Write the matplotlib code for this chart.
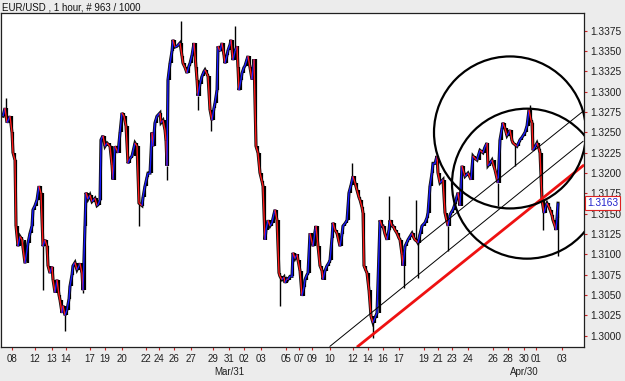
import numpy as np
import matplotlib
matplotlib.use("Agg")
import matplotlib.pyplot as plt
from matplotlib.collections import LineCollection
from matplotlib.patches import Ellipse
import matplotlib.transforms as mtransforms

# ---- price data (bar slot, close) ----
bar_x = [3, 5, 7, 10, 12, 13, 15, 16, 18, 20, 22, 25, 28, 30, 32, 33, 35, 37, 39, 41,
         43, 45, 47, 48, 50, 52, 53, 55, 57, 59, 60, 62, 63, 65, 67, 69, 70, 72, 73, 75,
         77, 79, 80, 82, 83, 85, 86, 88, 90, 92, 95, 97, 98, 100, 101, 103, 105, 107, 110, 112,
         113, 115, 117, 118, 120, 122, 124, 126, 128, 130, 132, 135, 137, 139, 142, 143, 145, 147, 148, 150,
         152, 153, 155, 157, 160, 161, 163, 165, 166, 167, 168, 170, 172, 173, 175, 177, 180, 182, 183, 185,
         187, 189, 190, 192, 194, 196, 197, 198, 200, 202, 204, 205, 207, 208, 210, 212, 214, 215, 217, 218,
         220, 222, 224, 225, 227, 228, 230, 231, 233, 235, 237, 238, 239, 241, 242, 244, 245, 247, 248, 250,
         252, 254, 256, 258, 260, 262, 263, 265, 266, 268, 270, 272, 274, 275, 277, 279, 280, 282, 284, 285,
         287, 288, 290, 292, 293, 295, 297, 298, 300, 302, 304, 305, 307, 308, 310, 312, 313, 315, 316, 318,
         320, 322, 323, 325, 327, 329, 330, 332, 333, 335, 337, 339, 340, 342, 343, 345, 347, 349, 351, 353,
         355, 357, 359, 360, 362, 363, 364, 366, 367, 369, 371, 373, 375, 377, 380, 382, 383, 385, 387, 389,
         390, 392, 393, 395, 397, 399, 400, 402, 403, 405, 407, 408, 410, 412, 414, 415, 417, 418, 420, 422,
         425, 427, 428, 430, 432, 433, 435, 437, 438, 440, 443, 445, 447, 448, 450, 451, 453, 455, 456, 458,
         460, 462, 464, 465, 468, 471, 473, 475, 477, 480, 483, 485, 487, 488, 490, 492, 495, 498, 500, 502,
         503, 505, 507, 509, 510, 512, 513, 515, 517, 519, 520, 522, 523, 525, 527, 529, 531, 532, 533, 535,
         537, 539, 540, 542, 544, 546, 547, 549, 550, 552, 553, 555, 556, 557, 558]
close = [1.3270, 1.3280, 1.3262, 1.3270, 1.3250, 1.3225, 1.3216, 1.3135, 1.3110, 1.3122,
         1.3118, 1.3089, 1.3114, 1.3126, 1.3135, 1.3155, 1.3160, 1.3167, 1.3184, 1.3175,
         1.3110, 1.3118, 1.3110, 1.3086, 1.3077, 1.3085, 1.3069, 1.3053, 1.3069, 1.3050,
         1.3044, 1.3028, 1.3037, 1.3025, 1.3032, 1.3045, 1.3061, 1.3075, 1.3086, 1.3090,
         1.3081, 1.3086, 1.3089, 1.3077, 1.3056, 1.3135, 1.3176, 1.3168, 1.3173, 1.3165,
         1.3169, 1.3160, 1.3161, 1.3167, 1.3241, 1.3246, 1.3233, 1.3237, 1.3233, 1.3210,
         1.3192, 1.3233, 1.3228, 1.3225, 1.3250, 1.3274, 1.3270, 1.3258, 1.3212, 1.3218,
         1.3221, 1.3237, 1.3233, 1.3163, 1.3160, 1.3170, 1.3184, 1.3195, 1.3200, 1.3200,
         1.3250, 1.3233, 1.3262, 1.3270, 1.3274, 1.3262, 1.3265, 1.3253, 1.3240, 1.3209,
         1.3315, 1.3335, 1.3350, 1.3364, 1.3355, 1.3356, 1.3360, 1.3344, 1.3335, 1.3330,
         1.3323, 1.3332, 1.3335, 1.3345, 1.3360, 1.3330, 1.3315, 1.3295, 1.3310, 1.3319,
         1.3325, 1.3327, 1.3322, 1.3319, 1.3278, 1.3265, 1.3280, 1.3286, 1.3302, 1.3356,
         1.3350, 1.3360, 1.3345, 1.3335, 1.3345, 1.3351, 1.3358, 1.3364, 1.3339, 1.3350,
         1.3356, 1.3330, 1.3302, 1.3315, 1.3323, 1.3330, 1.3332, 1.3340, 1.3344, 1.3330,
         1.3315, 1.3340, 1.3233, 1.3225, 1.3200, 1.3190, 1.3184, 1.3118, 1.3130, 1.3142,
         1.3135, 1.3139, 1.3150, 1.3155, 1.3142, 1.3077, 1.3073, 1.3069, 1.3072, 1.3065,
         1.3070, 1.3069, 1.3073, 1.3073, 1.3102, 1.3095, 1.3100, 1.3093, 1.3080, 1.3049,
         1.3060, 1.3069, 1.3075, 1.3077, 1.3126, 1.3115, 1.3110, 1.3128, 1.3135, 1.3110,
         1.3086, 1.3080, 1.3069, 1.3080, 1.3086, 1.3090, 1.3093, 1.3120, 1.3139, 1.3130,
         1.3126, 1.3115, 1.3110, 1.3125, 1.3135, 1.3138, 1.3142, 1.3176, 1.3185, 1.3196,
         1.3188, 1.3179, 1.3170, 1.3167, 1.3158, 1.3151, 1.3086, 1.3080, 1.3077, 1.3056,
         1.3024, 1.3016, 1.3022, 1.3028, 1.3142, 1.3135, 1.3135, 1.3125, 1.3118, 1.3130,
         1.3142, 1.3135, 1.3135, 1.3130, 1.3126, 1.3120, 1.3118, 1.3100, 1.3086, 1.3110,
         1.3115, 1.3118, 1.3122, 1.3126, 1.3120, 1.3118, 1.3116, 1.3114, 1.3125, 1.3135,
         1.3139, 1.3145, 1.3151, 1.3184, 1.3200, 1.3212, 1.3212, 1.3221, 1.3200, 1.3188,
         1.3192, 1.3151, 1.3140, 1.3135, 1.3148, 1.3151, 1.3155, 1.3162, 1.3167, 1.3176,
         1.3160, 1.3209, 1.3200, 1.3196, 1.3200, 1.3192, 1.3221, 1.3218, 1.3216, 1.3228,
         1.3225, 1.3232, 1.3237, 1.3209, 1.3212, 1.3216, 1.3204, 1.3188, 1.3241, 1.3255,
         1.3262, 1.3255, 1.3246, 1.3250, 1.3253, 1.3240, 1.3237, 1.3235, 1.3233, 1.3238,
         1.3241, 1.3244, 1.3246, 1.3250, 1.3258, 1.3278, 1.3265, 1.3262, 1.3228, 1.3232,
         1.3237, 1.3230, 1.3225, 1.3167, 1.3151, 1.3160, 1.3163, 1.3158, 1.3155, 1.3148,
         1.3142, 1.3135, 1.3130, 1.3145, 1.3163]

# long wicks (bar slot, high or low)
spike_x = [6, 43, 65, 83, 139, 167, 181, 198, 211, 235, 280, 352, 373, 389, 404, 416,
           418, 448, 498, 515, 530, 543, 558]
spike_p = [1.3292, 1.3056, 1.3006, 1.3053, 1.3135, 1.3192, 1.3387, 1.3278, 1.3252, 1.3381,
           1.3037, 1.3212, 1.2997, 1.3172, 1.3059, 1.3167, 1.3071, 1.3104, 1.3160, 1.3209,
           1.3284, 1.3130, 1.3098]

# axis labels
tick_pos = [12, 35, 52, 66, 90, 105, 122, 146, 159, 174, 191, 213, 229, 244, 261, 286, 299, 312,
            330, 353, 368, 383, 399, 424, 438, 452, 468, 493, 508, 524, 536, 562]
tick_lbl = ["08", "12", "13", "14", "17", "19", "20", "22", "24", "26", "27", "29", "31", "02",
            "03", "05", "07", "09", "10", "12", "14", "16", "17", "19", "21", "23", "24", "26",
            "28", "30", "01", "03"]
month_pos = [229, 524]
month_lbl = ["Mar/31", "Apr/30"]
price_ticks = [1.3000, 1.3025, 1.3050, 1.3075, 1.3100, 1.3125, 1.3150, 1.3175,
               1.3200, 1.3225, 1.3250, 1.3275, 1.3300, 1.3325, 1.3350, 1.3375]

# hand drawn trend lines: (x0, p0, x1, p1)
thin_lines = [(330, 1.2987, 583, 1.3239), (418, 1.3113, 583, 1.3276)]
red_line = (358, 1.2987, 583, 1.3209)
# circles: centre bar, centre price, radius in bar slots
circles = [(510, 1.3250, 76), (527, 1.3187, 75)]

plt.rcParams['font.family'] = ['Liberation Sans', 'DejaVu Sans']

fig = plt.figure(figsize=(6.25, 3.81), dpi=100, facecolor="#ececec")
ax = fig.add_axes([1/625, 1 - 347/381, 583/625, 334/381])
ax.set_facecolor("white")
ax.set_xlim(1, 584)
ax.set_ylim(1.29861, 1.33969)

x = np.array(bar_x, dtype=float)
c = np.array(close)

# black bars underneath: a dark halo along the path + high/low wicks
ax.plot(x, c, color="#111111", lw=2.2, solid_joinstyle="miter", zorder=2)
ax.vlines(x[1:], np.minimum(c[:-1], c[1:]), np.maximum(c[:-1], c[1:]),
          color="black", lw=1.6, zorder=2)
sx = np.array(spike_x, dtype=float)
ax.vlines(sx, np.interp(sx, x, c), spike_p, color="black", lw=1, zorder=2)

# coloured up/down moves on top
segs = np.stack([np.column_stack([x[:-1], c[:-1]]), np.column_stack([x[1:], c[1:]])], axis=1)
cols = np.where(c[1:] >= c[:-1], "#1a1aff", "#ff1a1a")
ax.add_collection(LineCollection(segs, colors=cols, linewidths=1.0, zorder=3))

# trend lines
for x0, p0, x1, p1 in thin_lines:
    ax.plot([x0, x1], [p0, p1], color="black", lw=0.7, zorder=4)
ax.plot([red_line[0], red_line[2]], [red_line[1], red_line[3]], color="#ee1111", lw=2, zorder=4)

# circles (convert pixel radius into price units)
ppx = (1.33969 - 1.29861) / 334.0
for cx, cp, r in circles:
    ax.add_patch(Ellipse((cx, cp), 2 * r, 2 * r * ppx, fill=False, ec="black", lw=1.6, zorder=5))

# axes styling
for s in ax.spines.values():
    s.set_color("#202020")
    s.set_linewidth(0.9)
ax.yaxis.tick_right()
ax.set_yticks(price_ticks, ["%.4f" % p for p in price_ticks])
ax.set_xticks(tick_pos, tick_lbl)
ax.tick_params(axis="both", colors="#cc2222", length=2.5, width=0.8, labelsize=7,
               labelcolor="#202020")
ax.tick_params(axis="x", pad=2.5)
ax.tick_params(axis="y", pad=1.8, labelsize=7.3)

for p, lbl in zip(month_pos, month_lbl):
    ax.annotate(lbl, xy=(p, 0), xycoords=("data", "axes fraction"), xytext=(0, -18),
                textcoords="offset points", ha="center", va="center", fontsize=7, color="#202020")

# current price marker
tr = mtransforms.blended_transform_factory(ax.transAxes, ax.transData)
ax.text(1.0 + 3/583, close[-1], "%.4f" % close[-1], transform=tr, ha="left", va="center",
        fontsize=7.3, color="#2020cc", zorder=10, clip_on=False,
        bbox=dict(boxstyle="square,pad=0.2", fc="white", ec="#dd2222", lw=0.8))

fig.text(2/625, 1 - 7/381, "EUR/USD , 1 hour, # 963 / 1000", ha="left", va="center",
         fontsize=7, color="#101010")

fig.savefig("out.png", dpi=100, facecolor=fig.get_facecolor())
